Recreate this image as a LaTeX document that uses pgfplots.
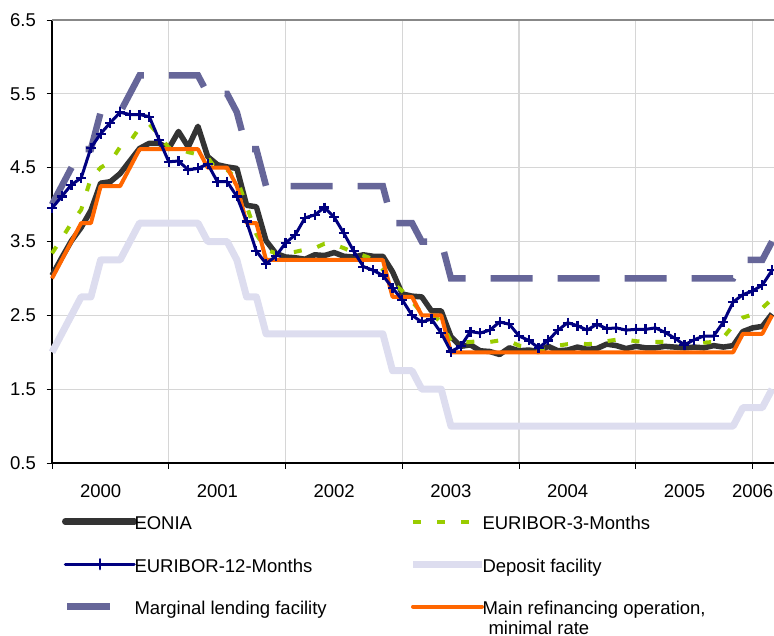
\documentclass[border=0pt]{standalone}
\usepackage{pgfplots}
\pgfplotsset{compat=1.18}
\usepackage{pgfplotstable}
\usepackage{fontspec}
\setmainfont{Liberation Sans}
\definecolor{eoniacol}{HTML}{333333}
\definecolor{e3col}{HTML}{99CC00}
\definecolor{e12col}{HTML}{000080}
\definecolor{depcol}{HTML}{DDDDEF}
\definecolor{mlfcol}{HTML}{666699}
\definecolor{mrocol}{HTML}{FF6600}
\definecolor{gridcol}{HTML}{D6D6D6}
\definecolor{topcol}{HTML}{888888}
\pgfplotsset{
  seglegend/.style={legend image code/.code={\draw[##1] (0pt,0pt) -- (69pt,0pt);}},
  markleg/.style={legend image code/.code={\draw[##1, mark repeat=2, mark phase=2] plot coordinates {(0pt,0pt) (34.5pt,0pt) (69pt,0pt)};}},
  shortleg/.style={legend image code/.code={\draw[##1, solid] (2pt,0pt) -- (45pt,0pt);}},
}
\pgfplotstableread{
x eonia e3m e12m mro dep mlf
0 3.04 3.34 3.95 3.00 2.00 4.00
1 3.28 3.54 4.11 3.25 2.25 4.25
2 3.51 3.75 4.27 3.50 2.50 4.50
3 3.69 3.93 4.36 3.75 2.75 4.75
4 3.92 4.36 4.77 3.75 2.75 4.75
5 4.29 4.50 4.96 4.25 3.25 5.25
6 4.31 4.58 5.11 4.25 3.25 5.25
7 4.42 4.78 5.25 4.25 3.25 5.25
8 4.59 4.85 5.22 4.50 3.50 5.50
9 4.76 5.04 5.22 4.75 3.75 5.75
10 4.83 5.09 5.19 4.75 3.75 5.75
11 4.83 4.94 4.88 4.75 3.75 5.75
12 4.76 4.77 4.58 4.75 3.75 5.75
13 4.99 4.76 4.59 4.75 3.75 5.75
14 4.78 4.71 4.47 4.75 3.75 5.75
15 5.06 4.68 4.49 4.75 3.75 5.75
16 4.65 4.64 4.55 4.50 3.50 5.50
17 4.54 4.45 4.31 4.50 3.50 5.50
18 4.51 4.47 4.31 4.50 3.50 5.50
19 4.49 4.35 4.11 4.25 3.25 5.25
20 3.99 3.98 3.77 3.75 2.75 4.75
21 3.97 3.60 3.37 3.75 2.75 4.75
22 3.51 3.39 3.20 3.25 2.25 4.25
23 3.34 3.34 3.30 3.25 2.25 4.25
24 3.29 3.34 3.48 3.25 2.25 4.25
25 3.28 3.36 3.59 3.25 2.25 4.25
26 3.26 3.39 3.82 3.25 2.25 4.25
27 3.32 3.41 3.86 3.25 2.25 4.25
28 3.31 3.47 3.96 3.25 2.25 4.25
29 3.35 3.46 3.83 3.25 2.25 4.25
30 3.30 3.41 3.61 3.25 2.25 4.25
31 3.29 3.35 3.37 3.25 2.25 4.25
32 3.32 3.31 3.16 3.25 2.25 4.25
33 3.30 3.26 3.11 3.25 2.25 4.25
34 3.30 3.12 3.04 3.25 2.25 4.25
35 3.09 2.94 2.87 2.75 1.75 3.75
36 2.79 2.83 2.71 2.75 1.75 3.75
37 2.76 2.69 2.50 2.75 1.75 3.75
38 2.75 2.53 2.41 2.50 1.50 3.50
39 2.56 2.53 2.45 2.50 1.50 3.50
40 2.56 2.40 2.26 2.50 1.50 3.50
41 2.21 2.15 2.01 2.00 1.00 3.00
42 2.08 2.13 2.08 2.00 1.00 3.00
43 2.10 2.14 2.28 2.00 1.00 3.00
44 2.02 2.15 2.26 2.00 1.00 3.00
45 2.01 2.14 2.30 2.00 1.00 3.00
46 1.97 2.16 2.41 2.00 1.00 3.00
47 2.06 2.15 2.38 2.00 1.00 3.00
48 2.02 2.09 2.22 2.00 1.00 3.00
49 2.03 2.07 2.16 2.00 1.00 3.00
50 2.01 2.03 2.06 2.00 1.00 3.00
51 2.08 2.05 2.16 2.00 1.00 3.00
52 2.02 2.09 2.30 2.00 1.00 3.00
53 2.03 2.11 2.40 2.00 1.00 3.00
54 2.07 2.12 2.36 2.00 1.00 3.00
55 2.04 2.11 2.30 2.00 1.00 3.00
56 2.05 2.12 2.38 2.00 1.00 3.00
57 2.11 2.15 2.32 2.00 1.00 3.00
58 2.09 2.17 2.33 2.00 1.00 3.00
59 2.05 2.17 2.30 2.00 1.00 3.00
60 2.08 2.15 2.31 2.00 1.00 3.00
61 2.06 2.14 2.31 2.00 1.00 3.00
62 2.06 2.14 2.33 2.00 1.00 3.00
63 2.08 2.14 2.27 2.00 1.00 3.00
64 2.07 2.13 2.19 2.00 1.00 3.00
65 2.06 2.11 2.10 2.00 1.00 3.00
66 2.07 2.12 2.17 2.00 1.00 3.00
67 2.06 2.13 2.22 2.00 1.00 3.00
68 2.09 2.14 2.22 2.00 1.00 3.00
69 2.07 2.20 2.41 2.00 1.00 3.00
70 2.09 2.36 2.68 2.00 1.00 3.00
71 2.28 2.47 2.78 2.25 1.25 3.25
72 2.33 2.51 2.83 2.25 1.25 3.25
73 2.35 2.60 2.91 2.25 1.25 3.25
74 2.52 2.72 3.11 2.50 1.50 3.50
}\rates
\begin{document}
\begin{tikzpicture}
\useasboundingbox (-52pt,20pt) rectangle (722pt,-615pt);
\begin{axis}[
  at={(0pt,0pt)}, anchor=north west,
  scale only axis, width=722pt, height=443pt,
  xmin=0, xmax=74.2, ymin=0.5, ymax=6.5,
  clip=false,
  axis x line*=bottom, axis y line*=left,
  axis line style={black, line width=1.2pt, -},
  xtick={0,12,24,36,48,60,72}, xticklabels={},
  extra x ticks={5,17,29,41,53,65,72},
  extra x tick labels={2000,2001,2002,2003,2004,2005,2006},
  extra x tick style={grid=none, major tick length=0pt},
  ytick={0.5,1.5,2.5,3.5,4.5,5.5,6.5},
  yticklabels={0.5,1.5,2.5,3.5,4.5,5.5,6.5},
  tick align=outside, major tick length=5.5pt,
  tick style={black, line width=1pt},
  grid=major, grid style={gridcol, line width=1.3pt},
  tick label style={font=\fontsize{18.5}{22}\selectfont},
  /pgf/number format/assume math mode=true,
  xticklabel style={inner sep=0pt, yshift=-21pt},
  yticklabel style={inner sep=0pt, xshift=-10.5pt},
  legend columns=2,
  legend cell align=left,
  legend style={at={(axis description cs:0.01385,-0.1144)}, anchor=north west,
    draw=none, fill=none, inner sep=0pt, outer sep=0pt,
    column sep=-3pt, row sep=26.5pt,
    font=\fontsize{18.5}{22}\selectfont,
    nodes={inner sep=0pt, text height=16pt, text depth=0pt}},
]
\addplot[forget plot, depcol, line width=7pt, line join=round] table[x=x, y=dep] {\rates};
\addplot[forget plot, mlfcol, line width=6.5pt, dash pattern=on 42pt off 25pt] table[x=x, y=mlf] {\rates};
\addplot[forget plot, eoniacol, line width=5.5pt, line join=round] table[x=x, y=eonia] {\rates};
\addplot[forget plot, e3col, line width=4pt, dash pattern=on 8pt off 16pt] table[x=x, y=e3m] {\rates};
\addplot[forget plot, mrocol, line width=4pt, line join=round] table[x=x, y=mro] {\rates};
\addplot[forget plot, e12col, line width=3pt, line join=round, mark=+, mark size=5pt, mark options={line width=2.2pt, solid}] table[x=x, y=e12m] {\rates};
\draw[topcol, line width=1.3pt] (rel axis cs:0,1) -- (rel axis cs:1,1);

\addlegendimage{seglegend, eoniacol, line width=6.5pt, line cap=round}
\addlegendentry{\makebox[278pt][l]{EONIA}}
\addlegendimage{seglegend, e3col, line width=4pt, dash pattern=on 8pt off 16pt}
\addlegendentry{EURIBOR-3-Months}
\addlegendimage{markleg, e12col, line width=3pt, line cap=round, mark=+, mark size=5pt, mark options={line width=2.2pt, solid}}
\addlegendentry{\makebox[278pt][l]{EURIBOR-12-Months}}
\addlegendimage{seglegend, depcol, line width=7pt}
\addlegendentry{Deposit facility}
\addlegendimage{shortleg, mlfcol, line width=6.5pt}
\addlegendentry{\makebox[278pt][l]{Marginal lending facility}}
\addlegendimage{seglegend, mrocol, line width=4pt, line cap=round}
\addlegendentry{\makebox[0pt][l]{\raisebox{-20pt}[0pt][0pt]{\hspace*{6pt}minimal rate}}Main refinancing operation,}
\end{axis}
\end{tikzpicture}
\end{document}
